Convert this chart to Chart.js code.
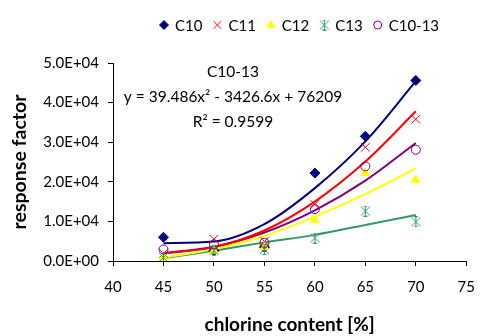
<!DOCTYPE html>
<html lang="en">
<head>
<meta charset="utf-8">
<title>Response factor vs chlorine content</title>
<script src="https://cdn.jsdelivr.net/npm/chart.js@4.4.0/dist/chart.umd.min.js"></script>
<style>
  body { margin: 0; padding: 0; background: #fff; }
</style>
</head>
<body>
<canvas id="chart" width="487" height="336"></canvas>
<script>
  // chlorine content [%]
  const chlorine = [45, 50, 55, 60, 65, 70];

  // measured response factors
  const c10   = [6000, 2600, 3500, 22200, 31500, 45600];
  const c11   = [1900, 5500, 4900, 14300, 28700, 35800];
  const c12   = [900, 2600, 3500, 10400, 22200, 20500];
  const c13   = [900, 2600, 2900, 5800, 12600, 9900];
  const c1013 = [2900, 4200, 4600, 13100, 23900, 28100];

  // polynomial trend lines
  const fitC10   = [4500, 4900, 9300, 18400, 30200, 45400];
  const fitC11   = [1900, 3500, 7700, 15000, 25100, 37800];
  const fitC12   = [800, 3000, 6300, 11200, 16900, 23400];
  const fitC13   = [700, 2600, 4700, 6600, 9100, 11600];
  const fitC1013 = [2000, 3600, 7200, 12800, 20300, 29800];

  const xTicks = [40, 45, 50, 55, 60, 65, 70, 75];
  const yTicks = [0, 10000, 20000, 30000, 40000, 50000];

  const FONT = 'Lato, "Open Sans", sans-serif';

  // excel style star marker: X with a vertical bar and caps
  function starMarker(color) {
    const c = document.createElement('canvas');
    c.width = 11; c.height = 11;
    const g = c.getContext('2d');
    g.strokeStyle = color;
    g.lineWidth = 1;
    g.beginPath();
    g.moveTo(1, 1); g.lineTo(10, 10);
    g.moveTo(10, 1); g.lineTo(1, 10);
    g.moveTo(5.5, 0.5); g.lineTo(5.5, 10.5);
    g.moveTo(3.5, 0.5); g.lineTo(7.5, 0.5);
    g.moveTo(3.5, 10.5); g.lineTo(7.5, 10.5);
    g.stroke();
    return c;
  }

  const toPts = ys => chlorine.map((x, i) => ({ x: x, y: ys[i] }));

  const series = [
    { label: 'C10', data: c10, fit: fitC10, color: '#000080', style: 'rectRot', radius: 5, fill: true },
    { label: 'C11', data: c11, fit: fitC11, color: '#FF0000', style: 'crossRot', radius: 6, fill: false },
    { label: 'C12', data: c12, fit: fitC12, color: '#FFFF00', style: 'triangle', radius: 5, fill: true },
    { label: 'C13', data: c13, fit: fitC13, color: '#339966', style: starMarker('#339966'), radius: 5, fill: false },
    { label: 'C10-13', data: c1013, fit: fitC1013, color: '#800080', style: 'circle', radius: 4.5, fill: false }
  ];

  const datasets = [];
  series.forEach((s, i) => {
    datasets.push({
      label: s.label,
      data: toPts(s.data),
      showLine: false,
      pointStyle: s.style,
      pointRadius: s.radius,
      pointHoverRadius: s.radius,
      pointBorderWidth: 1,
      pointBorderColor: s.color,
      pointBackgroundColor: s.fill ? s.color : 'rgba(0,0,0,0)',
      order: 4 - i
    });
  });
  series.forEach(s => {
    datasets.push({
      label: s.label + ' fit',
      data: toPts(s.fit),
      showLine: true,
      borderColor: s.color,
      borderWidth: 2,
      pointRadius: 0,
      cubicInterpolationMode: 'monotone',
      order: 10
    });
  });

  function sci(v) {
    const parts = v.toExponential(1).split('e');
    const sign = parts[1][0];
    const digits = parts[1].slice(1).padStart(2, '0');
    return parts[0] + 'E' + sign + digits;
  }

  const extras = {
    id: 'extras',
    afterDraw(chart) {
      const ctx = chart.ctx;
      ctx.save();
      // legend
      ctx.font = '15px ' + FONT;
      ctx.textBaseline = 'middle';
      ctx.textAlign = 'left';
      let x = 164;
      const y = 25;
      series.forEach(s => {
        ctx.fillStyle = s.fill ? s.color : 'rgba(0,0,0,0)';
        ctx.strokeStyle = s.color;
        ctx.lineWidth = 1;
        Chart.helpers.drawPoint(ctx, { pointStyle: s.style, radius: s.radius - 0.5, rotation: 0, borderWidth: 1 }, x, y);
        ctx.fillStyle = '#000';
        ctx.fillText(s.label, x + 11, y + 1);
        x += 11 + ctx.measureText(s.label).width + 15;
      });
      // trend line equation
      ctx.textAlign = 'center';
      ctx.font = '15.5px ' + FONT;
      ctx.fillText('C10-13', 233, 72);
      ctx.fillText('y = 39.486x² - 3426.6x + 76209', 233, 97);
      ctx.fillText('R² = 0.9599', 233, 122);
      ctx.restore();
    }
  };

  new Chart(document.getElementById('chart'), {
    type: 'scatter',
    data: { datasets: datasets },
    options: {
      responsive: false,
      animation: false,
      layout: { padding: { top: 63, right: 9, left: 0, bottom: 0 } },
      plugins: {
        legend: { display: false },
        tooltip: { enabled: false }
      },
      scales: {
        x: {
          type: 'linear',
          min: 40,
          max: 75,
          afterBuildTicks: axis => { axis.ticks = xTicks.map(v => ({ value: v })); },
          afterFit: axis => { axis.height = 75; },
          grid: { drawOnChartArea: false, tickLength: 5, color: '#000' },
          border: { color: '#000', width: 1 },
          ticks: { color: '#000', font: { family: FONT, size: 15 }, padding: 12 },
          title: {
            display: true,
            text: 'chlorine content [%]',
            color: '#000',
            font: { family: FONT, size: 19, weight: 'bold' },
            padding: { top: 0, bottom: 0 }
          }
        },
        y: {
          min: 0,
          max: 50000,
          afterBuildTicks: axis => { axis.ticks = yTicks.map(v => ({ value: v })); },
          afterFit: axis => { axis.width = 113; },
          grid: { drawOnChartArea: false, tickLength: 5, color: '#000' },
          border: { color: '#000', width: 1 },
          ticks: { color: '#000', font: { family: FONT, size: 15 }, padding: 9, callback: v => sci(v) },
          title: {
            display: true,
            text: 'response factor',
            color: '#000',
            font: { family: FONT, size: 19.5, weight: 'bold' },
            padding: { top: 8, bottom: 0 }
          }
        }
      }
    },
    plugins: [extras]
  });
</script>
</body>
</html>
